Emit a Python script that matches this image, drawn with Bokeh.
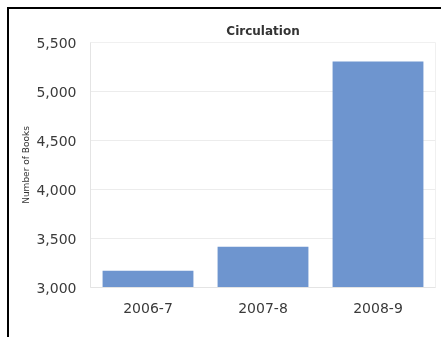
from bokeh.plotting import figure
from bokeh.models import FactorRange, Range1d, NumeralTickFormatter, FixedTicker, ColumnDataSource, Title
from bokeh.embed import file_html
from bokeh.resources import INLINE

years = ["2006-7", "2007-8", "2008-9"]
books = [3170, 3415, 5305]
y_ticks = [3000, 3500, 4000, 4500, 5000, 5500]

src = ColumnDataSource(dict(x=years, top=books))

p = figure(width=440, height=340, output_backend="svg", toolbar_location=None,
           x_range=FactorRange(*years, range_padding=0), y_range=Range1d(3000, 5500),
           min_border_left=81, min_border_right=14, min_border_top=33, min_border_bottom=62)
p.styles = {"position": "fixed", "top": "9px", "left": "9px",
            "box-shadow": "-2px -2px 0px 0px black"}
p.title.text = " "
p.title.text_font_size = "1px"
p.title.standoff = 0
p.add_layout(Title(text="Circulation", align="center", text_font="DejaVu Sans",
                   text_font_size="12px", text_font_style="bold", text_color="#333333"), "above")

p.vbar(x="x", top="top", bottom=3000, width=0.79, source=src,
       fill_color="#6e95cf", line_color=None)

p.yaxis.ticker = FixedTicker(ticks=y_ticks)
p.yaxis.formatter = NumeralTickFormatter(format="0,0")
p.yaxis.axis_label = "Number of Books"
p.yaxis.axis_label_text_font = "DejaVu Sans"
p.yaxis.axis_label_text_font_size = "9px"
p.yaxis.axis_label_text_font_style = "normal"
p.yaxis.axis_label_text_color = "#333333"
p.yaxis.axis_label_standoff = 2
for ax in (p.xaxis, p.yaxis):
    ax.major_label_text_font = "DejaVu Sans"
    ax.major_label_text_font_size = "14px"
    ax.major_label_text_color = "#3a3a3a"
    ax.major_tick_line_color = None
    ax.minor_tick_line_color = None
    ax.axis_line_color = "#e4e4e4"
p.yaxis.major_label_standoff = 8
p.xaxis.major_label_standoff = 9

p.xgrid.grid_line_color = None
p.ygrid.grid_line_color = "#ececec"
p.outline_line_color = "#f0f0f0"

open("out.html", "w").write(file_html(p, INLINE))
